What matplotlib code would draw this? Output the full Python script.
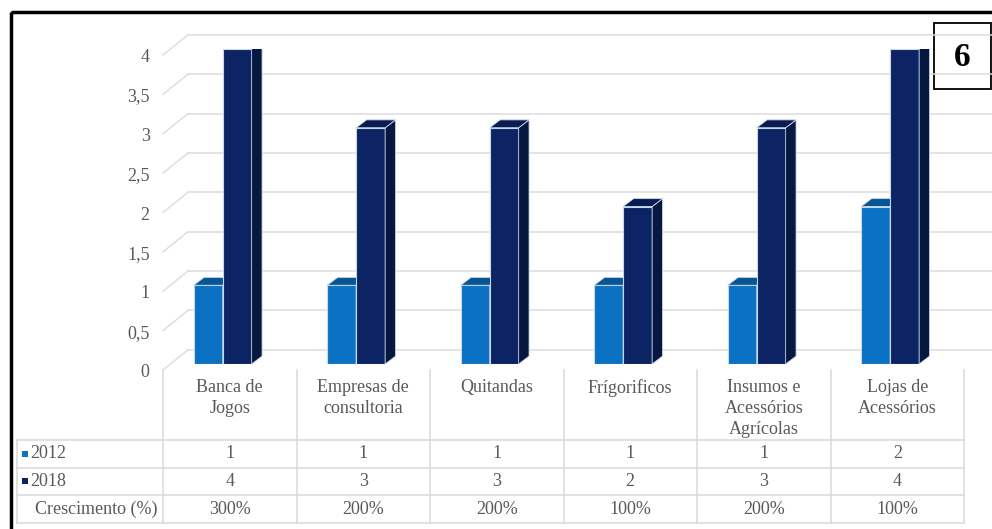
import matplotlib.pyplot as plt
from matplotlib.patches import Polygon, Rectangle

# Data
categories = ['Banca de\nJogos', 'Empresas de\nconsultoria', 'Quitandas', 'Frígorificos',
              'Insumos e\nAcessórios\nAgrícolas', 'Lojas de\nAcessórios']
v2012 = [1, 1, 1, 1, 1, 2]
v2018 = [4, 3, 3, 2, 3, 4]
growth = ['300%', '200%', '200%', '100%', '200%', '100%']
yticks = [0, 0.5, 1, 1.5, 2, 2.5, 3, 3.5, 4]
ytick_labels = ['0', '0,5', '1', '1,5', '2', '2,5', '3', '3,5', '4']

c2012 = ('#0b71c2', '#0a5ea3', '#085594')   # front, side, top
c2018 = ('#0c2463', '#061740', '#081c4f')
grid_c = '#dcdcdc'
text_c = '#595959'
FONT = 'Liberation Serif'
FS = 13

W, H = 992, 529
fig = plt.figure(figsize=(W / 100, H / 100), dpi=100)
fig.patch.set_facecolor('white')

# pixel overlay for frame, table and labels
ov = fig.add_axes([0, 0, 1, 1])
ov.set_xlim(0, W)
ov.set_ylim(H, 0)
ov.axis('off')

# chart area: columns between x=163..964, value 0..4 between y=364..49
col0, colw = 163, 133.5
ax = fig.add_axes([col0 / W, (H - 364) / H, 6 * colw / W, 315 / H])
ax.set_xlim(-0.5, 5.5)
ax.set_ylim(0, 4)
ax.axis('off')

# back wall grid + left slanted ticks
for v, lab in zip(yticks, ytick_labels):
    ax.plot([-0.313, 5.72], [v + 0.18, v + 0.18], color=grid_c, lw=1.1, clip_on=False, zorder=1)
    ax.plot([-0.5, -0.313], [v - 0.076, v + 0.18], color=grid_c, lw=1.0, clip_on=False, zorder=1)
    ax.text(-0.6, v - 0.11, lab, ha='right', va='center', fontsize=FS,
            family=FONT, color=text_c, clip_on=False)

# 3D-looking bars
bw = 0.217
dx, dy = 0.078, 0.10
edge = '#c8d6ec'


def bar3d(x0, h, cols, z):
    front, side, top = cols
    ax.bar(x0, h, width=bw, align='edge', color=front, edgecolor=edge, lw=0.8, zorder=z)
    x1 = x0 + bw
    ax.add_patch(Polygon([(x1, 0), (x1 + dx, dy), (x1 + dx, h + dy), (x1, h)],
                         closed=True, fc=side, ec=edge, lw=0.6, zorder=z))
    ax.add_patch(Polygon([(x0, h), (x1, h), (x1 + dx, h + dy), (x0 + dx, h + dy)],
                         closed=True, fc=top, ec=edge, lw=0.6, zorder=z))


for i in range(len(categories)):
    left = i - 0.27
    bar3d(left, v2012[i], c2012, 3)
    bar3d(left + bw, v2018[i], c2018, 4)

# data table
tl = dict(color=grid_c, lw=1.2)
right = col0 + 6 * colw
for y in [440, 468, 495, 523]:
    ov.plot([17, right], [y, y], **tl)
ov.plot([17, 17], [440, 523], **tl)
for i in range(7):
    x = col0 + i * colw
    ov.plot([x, x], [370, 523], **tl)

for i, cat in enumerate(categories):
    xc = col0 + colw * (i + 0.5)
    ov.text(xc, 379, cat, ha='center', va='top', fontsize=FS, family=FONT,
            color=text_c, linespacing=1.3)
    ov.text(xc, 454, str(v2012[i]), ha='center', va='center', fontsize=FS, family=FONT, color=text_c)
    ov.text(xc, 481, str(v2018[i]), ha='center', va='center', fontsize=FS, family=FONT, color=text_c)
    ov.text(xc, 509, growth[i], ha='center', va='center', fontsize=FS, family=FONT, color=text_c)

ov.add_patch(Rectangle((22, 451), 6, 6, fc=c2012[0], ec='none'))
ov.add_patch(Rectangle((22, 478), 6, 6, fc=c2018[0], ec='none'))
ov.text(30, 454, '2012', ha='left', va='center', fontsize=FS, family=FONT, color=text_c)
ov.text(30, 481, '2018', ha='left', va='center', fontsize=FS, family=FONT, color=text_c)
ov.text(35, 509, 'Crescimento (%)', ha='left', va='center', fontsize=FS, family=FONT, color=text_c)

# outer frame and panel number
ov.add_patch(Rectangle((11, 12), 1000, 540, fc='none', ec='black', lw=2.5, zorder=10))
ov.add_patch(Rectangle((934, 23), 57, 66, fc='white', ec='black', lw=1.3, zorder=10))
ov.text(962.5, 57, '6', ha='center', va='center', fontsize=24, fontweight='bold',
        family=FONT, color='black', zorder=11)

fig.savefig('out.png', dpi=100)
